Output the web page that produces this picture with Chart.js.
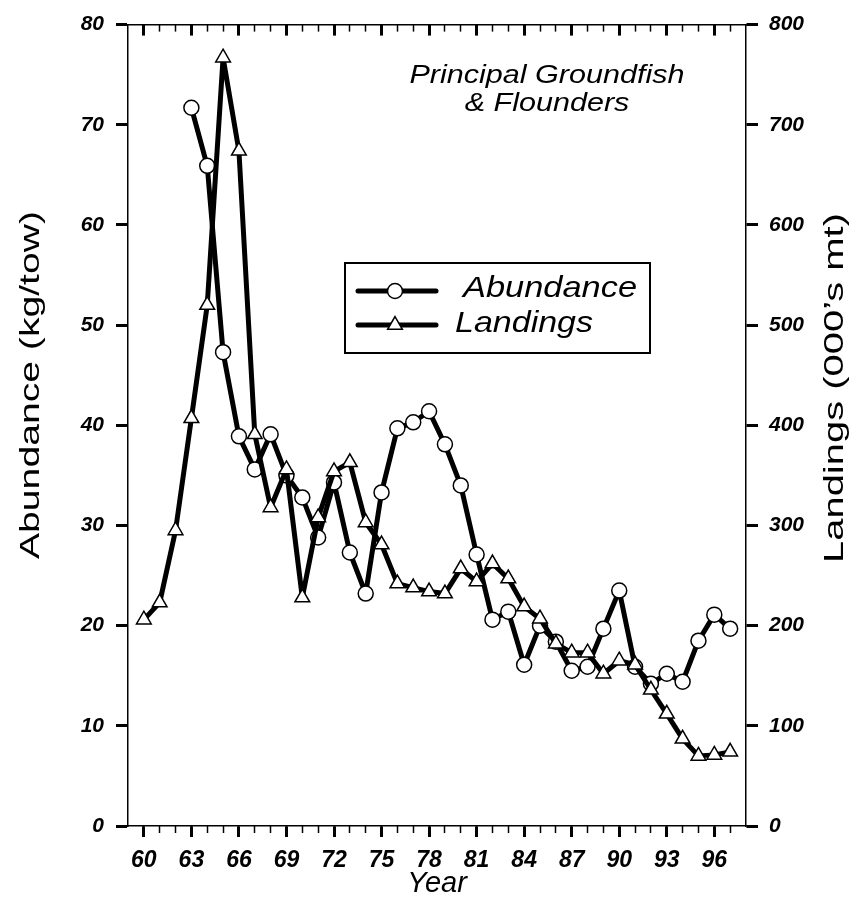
<!DOCTYPE html>
<html>
<head>
<meta charset="utf-8">
<script src="https://cdn.jsdelivr.net/npm/chart.js@4.4.1/dist/chart.umd.min.js"></script>
<style>
html,body{margin:0;padding:0;background:#fff;}
#wrap{width:857px;height:902px;position:relative;}
</style>
</head>
<body>
<div id="wrap"><canvas id="c"></canvas></div>
<script>
// ---- data ----
const years = [60,61,62,63,64,65,66,67,68,69,70,71,72,73,74,75,76,77,78,79,80,81,82,83,84,85,86,87,88,89,90,91,92,93,94,95,96,97];
const abundance = [null,null,null,71.7,65.9,47.3,38.9,35.6,39.1,35.0,32.8,28.8,34.3,27.3,23.2,33.3,39.7,40.3,41.4,38.1,34.0,27.1,20.6,21.4,16.1,20.0,18.4,15.5,15.9,19.7,23.5,15.9,14.2,15.2,14.4,18.5,21.1,19.7];
const landings = [206,223,295,407,520,767,674,391,318,356,228,308,354,363,303,281,242,238,234,232,257,244,262,247,219,207,182,173,173,152,165,161,136,112,87,70,71,74];
const yearLabels = [60,63,66,69,72,75,78,81,84,87,90,93,96];
const abundanceTicks = [0,10,20,30,40,50,60,70,80];
const landingsTicks = [0,100,200,300,400,500,600,700,800];
const seriesNames = ['Abundance','Landings'];
const titleLines = ['Principal Groundfish','& Flounders'];
const xTitle = 'Year';
const yTitleLeft = 'Abundance (kg/tow)';
const yTitleRight = 'Landings (000\u2019s mt)';

const FONT = '"Liberation Sans", Arial, Helvetica, sans-serif';

const abundancePts = years.map((yr, i) => ({x: yr, y: abundance[i]}));
const landingsPts = years.map((yr, i) => ({x: yr, y: landings[i]}));

function drawText(ctx, text, x, y, opts) {
  ctx.save();
  ctx.translate(x, y);
  if (opts.rotate) ctx.rotate(opts.rotate);
  ctx.font = opts.font;
  const w = ctx.measureText(text).width;
  const sx = opts.length ? opts.length / w : 1;
  ctx.scale(sx, 1);
  ctx.textAlign = opts.align || 'center';
  ctx.textBaseline = opts.baseline || 'middle';
  ctx.fillStyle = '#000';
  ctx.fillText(text, 0, 0);
  ctx.restore();
}

const overlay = {
  id: 'overlay',
  afterDraw(chart) {
    const ctx = chart.ctx;
    // y axis titles (read bottom to top on both sides)
    drawText(ctx, yTitleLeft, 31, 385, {rotate: -Math.PI/2, font: '28px ' + FONT, length: 348});
    drawText(ctx, yTitleRight, 835, 388, {rotate: -Math.PI/2, font: '28px ' + FONT, length: 350});
    // annotation title
    ctx.save();
    ctx.font = 'italic 25px ' + FONT;
    const w1 = ctx.measureText(titleLines[0]).width;
    ctx.restore();
    const sx = 275 / w1;
    const tx = 547;
    [[titleLines[0], 83], [titleLines[1], 111]].forEach(([t, by]) => {
      ctx.save();
      ctx.translate(tx, by);
      ctx.scale(sx, 1);
      ctx.font = 'italic 25px ' + FONT;
      ctx.textAlign = 'center';
      ctx.textBaseline = 'alphabetic';
      ctx.fillStyle = '#000';
      ctx.fillText(t, 0, 0);
      ctx.restore();
    });
    // legend box
    const L = 345, R = 650, T = 263, B = 353;
    ctx.save();
    ctx.fillStyle = '#fff';
    ctx.fillRect(L, T, R - L, B - T);
    ctx.lineWidth = 2;
    ctx.strokeStyle = '#000';
    ctx.strokeRect(L, T, R - L, B - T);
    ctx.restore();
    const rows = [
      {ds: chart.data.datasets[1], y: 291, textX: 463, baseY: 297, len: 174},
      {ds: chart.data.datasets[0], y: 325, textX: 455, baseY: 332, len: 138}
    ];
    rows.forEach(r => {
      ctx.save();
      ctx.strokeStyle = '#000';
      ctx.lineWidth = 5;
      ctx.lineCap = 'round';
      ctx.beginPath();
      ctx.moveTo(358, r.y);
      ctx.lineTo(436, r.y);
      ctx.stroke();
      ctx.fillStyle = '#fff';
      ctx.strokeStyle = '#000';
      ctx.lineWidth = r.ds.pointBorderWidth;
      Chart.helpers.drawPoint(ctx, {pointStyle: r.ds.pointStyle, radius: r.ds.pointRadius, rotation: 0, borderWidth: r.ds.pointBorderWidth}, 395, r.y);
      ctx.restore();
      drawText(ctx, r.ds.label, r.textX, r.baseY, {font: 'italic 30px ' + FONT, length: r.len, align: 'left', baseline: 'alphabetic'});
    });
  }
};

const tickFontY = {family: FONT, size: 21, style: 'italic', weight: 'bold'};
const tickFontX = {family: FONT, size: 23, style: 'italic', weight: 'bold'};

new Chart(document.getElementById('c'), {
  type: 'line',
  data: {
    datasets: [
      {
        label: seriesNames[1], data: landingsPts, xAxisID: 'x', yAxisID: 'y2', order: 0,
        borderColor: '#000', borderWidth: 5, tension: 0, borderJoinStyle: 'round', borderCapStyle: 'round',
        pointStyle: 'triangle', pointRadius: 8.5, pointBorderWidth: 1.5,
        pointBackgroundColor: '#fff', pointBorderColor: '#000'
      },
      {
        label: seriesNames[0], data: abundancePts, xAxisID: 'x', yAxisID: 'y', order: 1,
        borderColor: '#000', borderWidth: 5, tension: 0, borderJoinStyle: 'round', borderCapStyle: 'round',
        pointStyle: 'circle', pointRadius: 7.5, pointBorderWidth: 1.5,
        pointBackgroundColor: '#fff', pointBorderColor: '#000'
      }
    ]
  },
  options: {
    responsive: true,
    maintainAspectRatio: false,
    animation: false,
    devicePixelRatio: 1,
    layout: {padding: {top: 21, left: 0, right: 0, bottom: 0}},
    plugins: {legend: {display: false}, tooltip: {enabled: false}},
    scales: {
      x: {
        type: 'linear', position: 'bottom', min: 59, max: 98, weight: 1,
        afterBuildTicks: s => { s.ticks = yearLabels.map(v => ({value: v})); },
        afterFit: s => { s.height = 76; },
        ticks: {font: tickFontX, color: '#000', padding: 10, maxRotation: 0, autoSkip: false, callback: v => String(v)},
        grid: {drawOnChartArea: false, drawTicks: true, tickLength: 11, tickWidth: 3, tickColor: '#000'},
        border: {display: true, color: '#000', width: 1.5},
        title: {display: true, text: xTitle, color: '#000', font: {family: FONT, size: 29, style: 'italic'}, padding: {top: 0, bottom: 1}}
      },
      xMinor: {
        type: 'linear', position: 'bottom', min: 59, max: 98, weight: 0,
        afterBuildTicks: s => { s.ticks = years.map(v => ({value: v})); },
        afterFit: s => { s.height = 0; },
        ticks: {display: false},
        grid: {drawOnChartArea: false, drawTicks: true, tickLength: 7, tickWidth: 1.5, tickColor: '#000'},
        border: {display: false}
      },
      xTop: {
        type: 'linear', position: 'top', min: 59, max: 98, weight: 1,
        afterBuildTicks: s => { s.ticks = yearLabels.map(v => ({value: v})); },
        afterFit: s => { s.height = 0; },
        ticks: {display: false},
        grid: {drawOnChartArea: false, drawTicks: true, tickLength: -11, tickWidth: 3, tickColor: '#000'},
        border: {display: true, color: '#000', width: 1.5}
      },
      xTopMinor: {
        type: 'linear', position: 'top', min: 59, max: 98, weight: 0,
        afterBuildTicks: s => { s.ticks = years.map(v => ({value: v})); },
        afterFit: s => { s.height = 0; },
        ticks: {display: false},
        grid: {drawOnChartArea: false, drawTicks: true, tickLength: -7, tickWidth: 1.5, tickColor: '#000'},
        border: {display: false}
      },
      y: {
        type: 'linear', position: 'left', min: 0, max: 80,
        afterBuildTicks: s => { s.ticks = abundanceTicks.map(v => ({value: v})); },
        afterFit: s => { s.width = 128; },
        ticks: {font: tickFontY, color: '#000', padding: 12, callback: v => String(v)},
        grid: {drawOnChartArea: false, drawTicks: true, tickLength: 12, tickWidth: 3, tickColor: '#000'},
        border: {display: true, color: '#000', width: 1.5}
      },
      y2: {
        type: 'linear', position: 'right', min: 0, max: 800,
        afterBuildTicks: s => { s.ticks = landingsTicks.map(v => ({value: v})); },
        afterFit: s => { s.width = 111; },
        ticks: {font: tickFontY, color: '#000', padding: 11, callback: v => String(v)},
        grid: {drawOnChartArea: false, drawTicks: true, tickLength: 12, tickWidth: 3, tickColor: '#000'},
        border: {display: true, color: '#000', width: 1.5}
      }
    }
  },
  plugins: [overlay]
});
</script>
</body>
</html>
